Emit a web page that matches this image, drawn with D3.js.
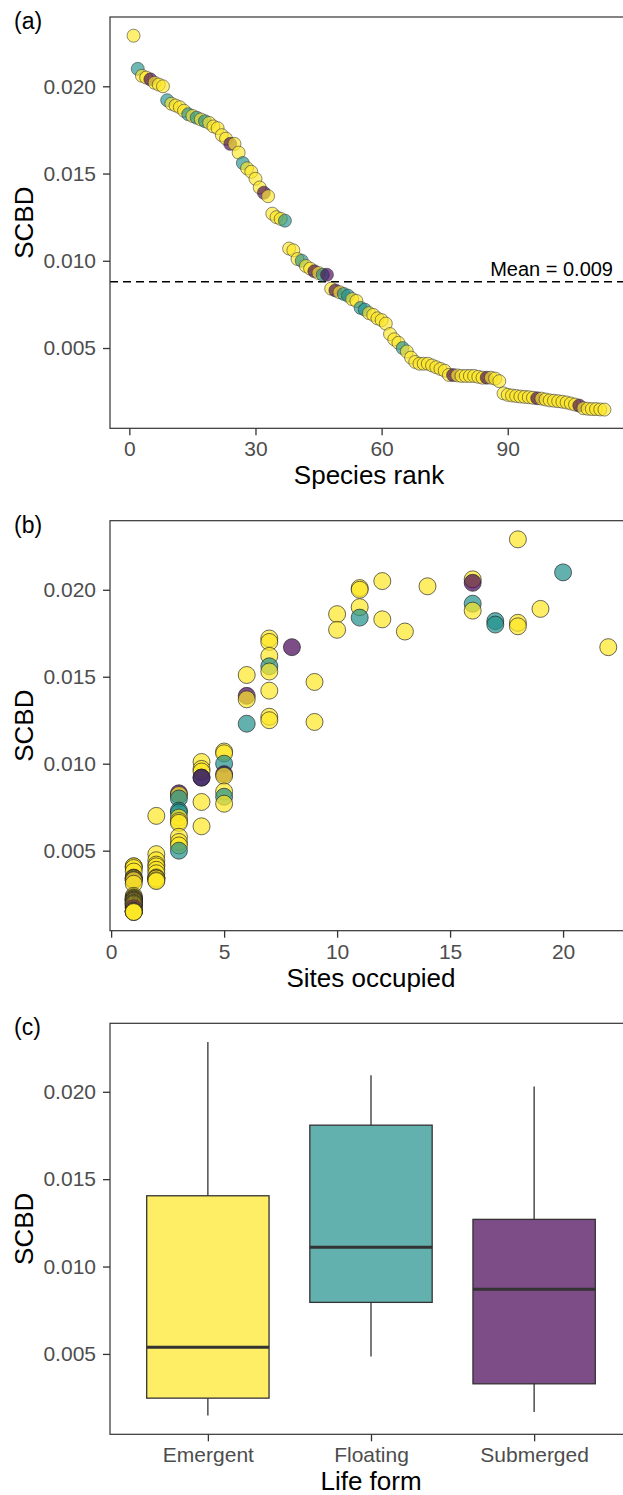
<!DOCTYPE html>
<html>
<head>
<meta charset="utf-8">
<script src="https://cdn.jsdelivr.net/npm/d3@7"></script>
<style>
  body { margin: 0; background: #ffffff; }
  svg text { font-family: "Liberation Sans", Arial, sans-serif; }
</style>
</head>
<body>
<div id="chart"></div>
<script>
// ---- data ----
// SCBD of each species, sorted high to low (species rank = index + 1)
var scbd = [
  0.0229, 0.0210, 0.0206, 0.0205, 0.0204, 0.0202, 0.0201, 0.0200, 0.0192, 0.0190,
  0.0189, 0.0188, 0.0186, 0.0184, 0.0183, 0.0182, 0.0181, 0.0180, 0.0179, 0.0177,
  0.0176, 0.0172, 0.0170, 0.0167, 0.0167, 0.0162, 0.0156, 0.0153, 0.0151, 0.0147,
  0.0142, 0.0139, 0.0137, 0.0127, 0.0125, 0.0124, 0.0123, 0.0107, 0.0106, 0.0101,
  0.0100, 0.0097, 0.00955, 0.0094, 0.0093, 0.0092, 0.0092, 0.0084, 0.0083, 0.0082,
  0.0081, 0.0080, 0.0078, 0.0077, 0.0073, 0.0072, 0.0070, 0.0069, 0.0067, 0.0066,
  0.0064, 0.0058, 0.0055, 0.0053, 0.0050, 0.0048, 0.00445, 0.0042, 0.0041, 0.0041,
  0.0041, 0.0040, 0.0039, 0.0038, 0.0037, 0.00346, 0.00345, 0.00343, 0.0034, 0.0034,
  0.0034, 0.0034, 0.00335, 0.0033, 0.0033, 0.0033, 0.00325, 0.0031, 0.0024, 0.00232,
  0.00228, 0.00225, 0.00222, 0.0022, 0.00218, 0.00215, 0.00212, 0.0021, 0.00205, 0.0020,
  0.00198, 0.00195, 0.00192, 0.00188, 0.00182, 0.00176, 0.0017, 0.00155, 0.00152, 0.0015,
  0.0015, 0.00148, 0.00147
];
// life form of each species, same order (E = Emergent, F = Floating, S = Submerged)
var lifeForm = [
  "E","F","E","E","S","E","E","E","F","E",
  "E","E","E","F","E","F","E","F","E","E",
  "E","E","E","S","E","E","F","E","E","E",
  "E","S","E","E","E","E","F","E","E","E",
  "F","E","E","S","E","F","S","E","S","E",
  "F","F","E","E","F","F","E","E","E","E",
  "E","E","E","E","F","E","E","E","E","E",
  "E","E","E","E","E","E","S","E","E","E",
  "E","E","E","E","S","E","E","E","E","E",
  "E","E","E","E","E","E","S","E","E","E",
  "E","E","E","E","E","E","S","E","E","E",
  "E","E","E"
];
// number of sites occupied by each species, same order
var sites = [
  18, 20, 16, 12, 16, 14, 11, 11, 16, 11,
  19, 16, 10, 11, 12, 17, 18, 17, 18, 10,
  13, 7, 7, 8, 22, 7, 7, 7, 6, 9,
  7, 6, 6, 7, 7, 9, 6, 5, 5, 4,
  5, 4, 4, 5, 5, 4, 4, 5, 3, 3,
  5, 3, 4, 5, 3, 3, 2, 3, 3, 3,
  4, 3, 3, 3, 3, 2, 2, 2, 1, 1,
  2, 1, 2, 1, 2, 2, 1, 1, 2, 2,
  1, 2, 1, 2, 1, 1, 2, 1, 1, 1,
  1, 1, 1, 1, 1, 1, 1, 1, 1, 1,
  1, 1, 1, 1, 1, 1, 1, 1, 1, 1,
  1, 1, 1
];

var formCodes = ["E", "F", "S"];
var formNames = ["Emergent", "Floating", "Submerged"];
var formColors = ["#FDE725", "#21908C", "#440154"];

// boxplot summary for panel (c), one value per life form
var boxMin = [0.00147, 0.00485, 0.00167];
var boxQ1 = [0.00247, 0.00795, 0.00329];
var boxMedian = [0.00538, 0.0111, 0.0087];
var boxQ3 = [0.01405, 0.01809, 0.0127];
var boxMax = [0.02285, 0.02094, 0.0203];

var meanSCBD = 0.0088;
var meanLabel = "Mean = 0.009";

var yTicks = [0.005, 0.010, 0.015, 0.020];
var rankTicks = [0, 30, 60, 90];
var siteTicks = [0, 5, 10, 15, 20];

// ---- layout ----
var svgWidth = 623;
var svgHeight = 1495;
var plotLeft = 110;

var svg = d3.select("#chart")
  .append("svg")
  .attr("width", svgWidth)
  .attr("height", svgHeight);

var colorOf = d3.scaleOrdinal().domain(formCodes).range(formColors);

// ggplot-like 5% expansion of a continuous range
function expand(ext) {
  var pad = (ext[1] - ext[0]) * 0.05;
  return [ext[0] - pad, ext[1] + pad];
}

function styleAxis(g) {
  g.select(".domain").remove();
  g.selectAll(".tick line").attr("stroke", "#333333").attr("stroke-width", 1.3);
  g.selectAll(".tick text")
    .attr("fill", "#4D4D4D")
    .attr("font-size", "21px");
}

// draws y axis, titles and tag; returns the group
function drawPanel(top, bottom, right, yScale, tag, xTitle) {
  var g = svg.append("g");

  g.append("g")
    .attr("transform", "translate(" + plotLeft + ",0)")
    .call(d3.axisLeft(yScale).tickValues(yTicks).tickFormat(d3.format(".3f"))
      .tickSize(7).tickPadding(7))
    .call(styleAxis);

  // y title
  g.append("text")
    .attr("transform", "rotate(-90)")
    .attr("x", -(top + bottom) / 2)
    .attr("y", 33)
    .attr("text-anchor", "middle")
    .attr("font-size", "26px")
    .attr("fill", "#000")
    .text("SCBD");

  // x title
  g.append("text")
    .attr("x", (plotLeft + right) / 2)
    .attr("y", bottom + 56)
    .attr("text-anchor", "middle")
    .attr("font-size", "26px")
    .attr("fill", "#000")
    .text(xTitle);

  // panel tag
  g.append("text")
    .attr("x", 14)
    .attr("y", top + 12)
    .attr("font-size", "23px")
    .attr("fill", "#000")
    .text(tag);

  return g;
}

function drawBorder(top, bottom, right) {
  svg.append("rect")
    .attr("x", plotLeft)
    .attr("y", top)
    .attr("width", right - plotLeft)
    .attr("height", bottom - top)
    .attr("fill", "none")
    .attr("stroke", "#333333")
    .attr("stroke-width", 1.2);
}

var yExtent = expand(d3.extent(scbd));

// ---- (a) SCBD vs species rank ----
var aTop = 17, aBottom = 428.3, aRight = 628;
var yA = d3.scaleLinear().domain(yExtent).range([aBottom, aTop]);
var xA = d3.scaleLinear().domain(expand([1, scbd.length])).range([plotLeft, aRight]);

var panelA = drawPanel(aTop, aBottom, aRight, yA, "(a)", "Species rank");

panelA.append("g")
  .attr("transform", "translate(0," + aBottom + ")")
  .call(d3.axisBottom(xA).tickValues(rankTicks).tickFormat(d3.format("d"))
    .tickSize(7).tickPadding(6))
  .call(styleAxis);

// mean line
panelA.append("line")
  .attr("x1", plotLeft)
  .attr("x2", aRight)
  .attr("y1", yA(meanSCBD))
  .attr("y2", yA(meanSCBD))
  .attr("stroke", "#000")
  .attr("stroke-width", 1.5)
  .attr("stroke-dasharray", "8,5");

panelA.append("text")
  .attr("x", 613)
  .attr("y", yA(meanSCBD) - 6)
  .attr("text-anchor", "end")
  .attr("font-size", "20px")
  .attr("fill", "#000")
  .text(meanLabel);

panelA.append("g")
  .selectAll("circle")
  .data(scbd)
  .enter()
  .append("circle")
  .attr("cx", (d, i) => xA(i + 1))
  .attr("cy", d => yA(d))
  .attr("r", 6.5)
  .attr("fill", (d, i) => colorOf(lifeForm[i]))
  .attr("fill-opacity", 0.65)
  .attr("stroke", "#333")
  .attr("stroke-opacity", 0.7)
  .attr("stroke-width", 0.8);

drawBorder(aTop, aBottom, aRight);

// ---- (b) SCBD vs sites occupied ----
var bTop = 520.7, bBottom = 930.7, bRight = 632;
var yB = d3.scaleLinear().domain(yExtent).range([bBottom, bTop]);
var xB = d3.scaleLinear().domain(expand(d3.extent(sites))).range([plotLeft, bRight]);

var panelB = drawPanel(bTop, bBottom, bRight, yB, "(b)", "Sites occupied");

panelB.append("g")
  .attr("transform", "translate(0," + bBottom + ")")
  .call(d3.axisBottom(xB).tickValues(siteTicks).tickFormat(d3.format("d"))
    .tickSize(7).tickPadding(6))
  .call(styleAxis);

panelB.append("g")
  .selectAll("circle")
  .data(scbd)
  .enter()
  .append("circle")
  .attr("cx", (d, i) => xB(sites[i]))
  .attr("cy", d => yB(d))
  .attr("r", 8.5)
  .attr("fill", (d, i) => colorOf(lifeForm[i]))
  .attr("fill-opacity", 0.7)
  .attr("stroke", "#222")
  .attr("stroke-opacity", 0.75)
  .attr("stroke-width", 0.9);

drawBorder(bTop, bBottom, bRight);

// ---- (c) SCBD by life form ----
var cTop = 1023.3, cBottom = 1434.3, cRight = 632;
var yC = d3.scaleLinear()
  .domain(expand([d3.min(boxMin), d3.max(boxMax)]))
  .range([cBottom, cTop]);
// discrete axis: categories at 1..n, padded by 0.6 on both sides
var xC = d3.scaleLinear().domain([0.4, formNames.length + 0.6]).range([plotLeft, cRight]);
var boxHalf = (xC(1.375) - xC(1));

var panelC = drawPanel(cTop, cBottom, cRight, yC, "(c)", "Life form");

panelC.append("g")
  .attr("transform", "translate(0," + cBottom + ")")
  .call(d3.axisBottom(xC).tickValues([1, 2, 3]).tickFormat((d, i) => formNames[i])
    .tickSize(7).tickPadding(6))
  .call(styleAxis);

var boxes = panelC.selectAll(".box")
  .data(formNames)
  .enter()
  .append("g")
  .attr("class", "box");

// whiskers
boxes.append("line")
  .attr("x1", (d, i) => xC(i + 1))
  .attr("x2", (d, i) => xC(i + 1))
  .attr("y1", (d, i) => yC(boxMax[i]))
  .attr("y2", (d, i) => yC(boxQ3[i]))
  .attr("stroke", "#333")
  .attr("stroke-width", 1.3);
boxes.append("line")
  .attr("x1", (d, i) => xC(i + 1))
  .attr("x2", (d, i) => xC(i + 1))
  .attr("y1", (d, i) => yC(boxQ1[i]))
  .attr("y2", (d, i) => yC(boxMin[i]))
  .attr("stroke", "#333")
  .attr("stroke-width", 1.3);

boxes.append("rect")
  .attr("x", (d, i) => xC(i + 1) - boxHalf)
  .attr("width", boxHalf * 2)
  .attr("y", (d, i) => yC(boxQ3[i]))
  .attr("height", (d, i) => yC(boxQ1[i]) - yC(boxQ3[i]))
  .attr("fill", (d, i) => formColors[i])
  .attr("fill-opacity", 0.7)
  .attr("stroke", "#333")
  .attr("stroke-width", 1.3);

// median
boxes.append("line")
  .attr("x1", (d, i) => xC(i + 1) - boxHalf)
  .attr("x2", (d, i) => xC(i + 1) + boxHalf)
  .attr("y1", (d, i) => yC(boxMedian[i]))
  .attr("y2", (d, i) => yC(boxMedian[i]))
  .attr("stroke", "#333")
  .attr("stroke-width", 3);

drawBorder(cTop, cBottom, cRight);
</script>
</body>
</html>
